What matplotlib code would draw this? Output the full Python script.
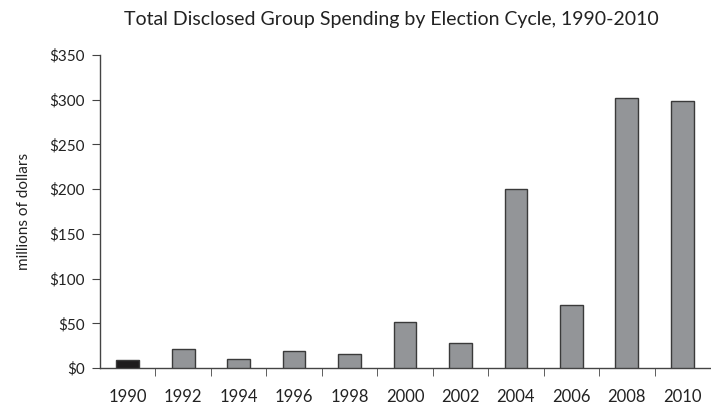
import numpy as np
import matplotlib.pyplot as plt
from matplotlib.ticker import FuncFormatter

# ---- data ----
years = ["1990", "1992", "1994", "1996", "1998", "2000", "2002", "2004", "2006", "2008", "2010"]
spending = [8.5, 21, 10, 19, 16, 51, 28, 200, 70, 302, 299]

plt.rcParams['font.family'] = ['Lato', 'DejaVu Sans']

fig = plt.figure(figsize=(7.11, 4.04), dpi=100)
ax = fig.add_axes([100 / 711, (404 - 368) / 404, 610 / 711, 313 / 404])

x = np.arange(len(years))
colors = ["#1e1c1d"] + ["#939598"] * (len(years) - 1)
ax.bar(x, spending, width=0.41, color=colors, edgecolor="#3a3a3a", linewidth=1.0, zorder=3)
# 1990 bar has a grey piece showing just under the axis
ax.bar(x[0] + 0.03, -1.8, width=0.41, color="#939598", edgecolor="none", zorder=2)

ax.set_xlim(-0.5, len(years) - 0.5)
ax.set_ylim(0, 350)
ax.set_yticks(np.arange(0, 351, 50))
ax.yaxis.set_major_formatter(FuncFormatter(lambda v, p: "$%d" % v))
ax.set_xticks(x)
ax.set_xticklabels(years)
ax.set_xticks(np.arange(0.5, len(years) - 0.5, 1), minor=True)
ax.tick_params(axis="x", which="major", length=0, pad=15, labelsize=12, colors="#222222")
ax.tick_params(axis="x", which="minor", length=6, direction="out", color="#444444")
ax.tick_params(axis="y", length=6, direction="out", color="#444444", labelsize=11,
               labelcolor="#222222", pad=5)

for s in ["top", "right"]:
    ax.spines[s].set_visible(False)
for s in ["left", "bottom"]:
    ax.spines[s].set_color("#444444")
    ax.spines[s].set_linewidth(1.0)

ax.set_ylabel("millions of dollars", fontsize=11, color="#222222", labelpad=13)
fig.text(391 / 711, 1 - 19 / 404, "Total Disclosed Group Spending by Election Cycle, 1990-2010",
         ha="center", va="center", fontsize=14, color="#222222")

fig.savefig("out.png", dpi=100)
